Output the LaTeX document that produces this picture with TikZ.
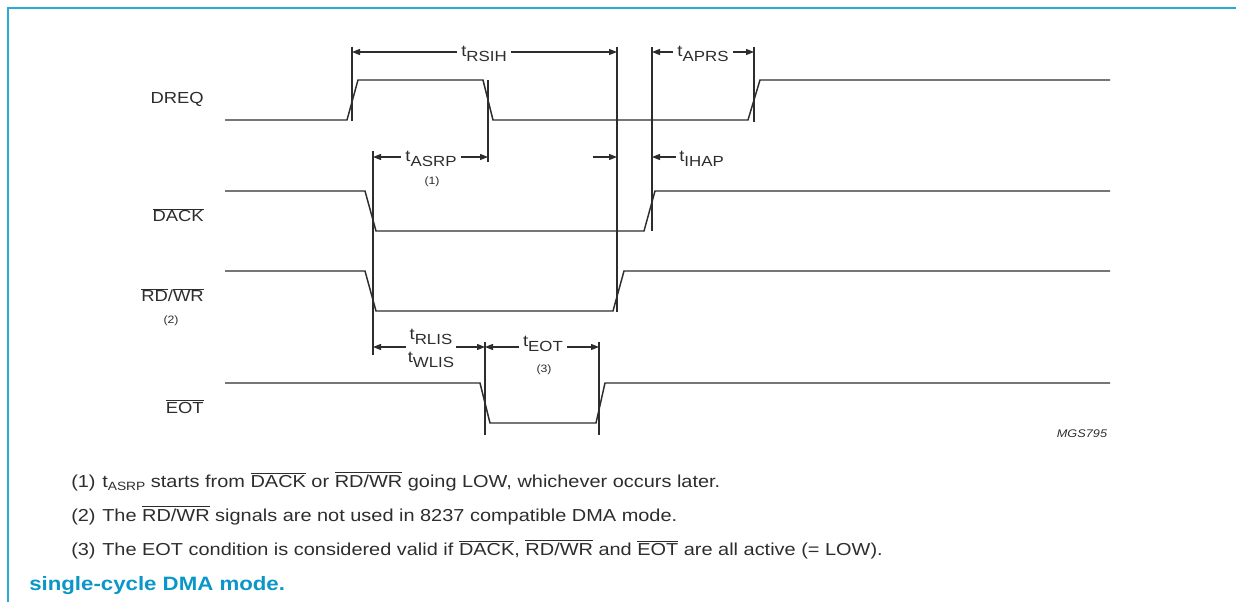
\documentclass[tikz,border=0pt]{standalone}
\usepackage{fontspec}
\setmainfont{Liberation Sans}
\usepackage{graphicx}
\usetikzlibrary{arrows.meta}

\definecolor{framecol}{RGB}{40,170,215}
\definecolor{titlecol}{RGB}{10,150,200}
\definecolor{inkgray}{RGB}{45,45,45}

% wide text, overbars and timing names
\newcommand{\sx}[1]{\scalebox{1.15}[1]{#1}}
\newcommand{\ovl}[1]{$\overline{\mbox{#1}}$}
\newcommand{\tsub}[1]{t\raisebox{-3.75pt}{\fontsize{11}{13}\selectfont #1}}
\newcommand{\tsubsm}[1]{t\raisebox{-2.5pt}{\fontsize{9}{11}\selectfont #1}}

\begin{document}
\begin{tikzpicture}[x=0.75pt, y=-0.75pt,
    sig/.style={line width=1.1pt, inkgray},
    ext/.style={line width=0.9pt, inkgray},
    dim/.style={line width=0.9pt, inkgray, {Triangle[length=6pt,width=4.5pt]}-{Triangle[length=6pt,width=4.5pt]}},
    half/.style={line width=0.9pt, inkgray, -{Triangle[length=6pt,width=4.5pt]}},
    lbl/.style={font=\fontsize{12}{14}\selectfont, text=inkgray, inner sep=0pt},
    siglbl/.style={lbl, anchor=base east},
    tlbl/.style={lbl, fill=white, inner xsep=3pt, inner ysep=2pt, anchor=base},
    nr/.style={lbl, font=\fontsize{8}{10}\selectfont},
    note/.style={font=\fontsize{13}{15}\selectfont, text=inkgray, anchor=base west, inner sep=0pt}]
    \useasboundingbox (0,0) rectangle (1236,602);
    \draw[framecol, line width=1.5pt] (8,602) -- (8,8) -- (1236,8);

    % signal names
    \node[siglbl] (dreq) at (204,104) {\sx{DREQ}};
    \node[siglbl] (dack) at (204,222) {\sx{\ovl{DACK}}};
    \node[siglbl] (rdwr) at (204,302) {\sx{\ovl{RD}/\ovl{WR}}};
    \node[nr] (rdwrn) at (171,321) {\sx{(2)}};
    \node[siglbl] (eot) at (204,413) {\sx{\ovl{EOT}}};

    % waveforms
    \draw[sig] (225,120) -- (347,120) -- (358,80) -- (483,80) -- (493,120)
        -- (748,120) -- (760,80) -- (1110,80);
    \draw[sig] (225,191) -- (365,191) -- (376,231) -- (644,231) -- (655,191) -- (1110,191);
    \draw[sig] (225,271) -- (365,271) -- (376,311) -- (613,311) -- (624,271) -- (1110,271);
    \draw[sig] (225,383) -- (480,383) -- (490,423) -- (596,423) -- (605,383) -- (1110,383);

    % reference lines
    \draw[ext] (352,47) -- (352,121);
    \draw[ext] (488,80) -- (488,162);
    \draw[ext] (617,47) -- (617,312);
    \draw[ext] (652,47) -- (652,231);
    \draw[ext] (754,47) -- (754,122);
    \draw[ext] (373,151) -- (373,355);
    \draw[ext] (485,342) -- (485,435);
    \draw[ext] (599,342) -- (599,435);

    % timing arrows
    \draw[dim] (352,52) -- (617,52);
    \node[tlbl] (rsih) at (484,57) {\sx{\tsub{RSIH}}};
    \draw[dim] (652,52) -- (754,52);
    \node[tlbl] (aprs) at (703,57) {\sx{\tsub{APRS}}};
    \draw[dim] (373,157) -- (488,157);
    \node[tlbl] (asrp) at (431,162) {\sx{\tsub{ASRP}}};
    \node[nr] (asrpn) at (432,182) {\sx{(1)}};
    \draw[half] (593,157) -- (617,157);
    \draw[half] (676,157) -- (652,157);
    \node[lbl, anchor=base west] (ihap) at (679,162) {\sx{\tsub{IHAP}}};
    \draw[dim] (373,347) -- (485,347);
    \node[tlbl, inner ysep=3pt] (rlis) at (431,340) {\sx{\tsub{RLIS}}};
    \node[lbl, anchor=base] (wlis) at (431,363) {\sx{\tsub{WLIS}}};
    \draw[dim] (485,347) -- (599,347);
    \node[tlbl] (teot) at (543,347) {\sx{\tsub{EOT}}};
    \node[nr] (teotn) at (544,370) {\sx{(3)}};

    \node[lbl, font=\fontsize{8.3}{10}\itshape] (fig) at (1082,434) {\sx{MGS795}};

    % notes
    \node[note] (n1) at (71,487) {\sx{(1)}};
    \node[note] (t1) at (102,487) {\sx{\tsubsm{ASRP} starts from \ovl{DACK} or \ovl{RD/WR} going LOW, whichever occurs later.}};
    \node[note] (n2) at (71,521) {\sx{(2)}};
    \node[note] (t2) at (102,521) {\sx{The \ovl{RD/WR} signals are not used in 8237 compatible DMA mode.}};
    \node[note] (n3) at (71,555) {\sx{(3)}};
    \node[note] (t3) at (102,555) {\sx{The EOT condition is considered valid if \ovl{DACK}, \ovl{RD/WR} and \ovl{EOT} are all active (= LOW).}};
    \node[note, font=\fontsize{14.5}{17}\bfseries, text=titlecol] (title) at (29,590) {\sx{single-cycle DMA mode.}};
\end{tikzpicture}
\end{document}
